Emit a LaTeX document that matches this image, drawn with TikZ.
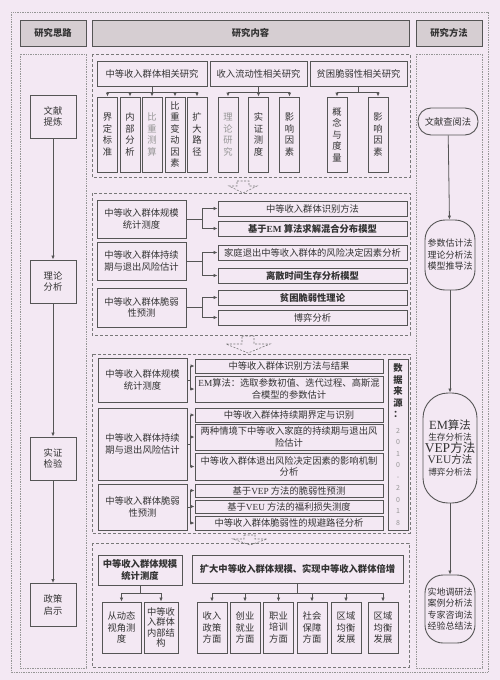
\documentclass[tikz,border=0pt]{standalone}
\usepackage{fontspec}
\newfontfamily\cjk{Noto Sans CJK SC}
\newfontfamily\lat{Liberation Serif}
\definecolor{bgpink}{RGB}{243,232,243}
\definecolor{hdrgray}{RGB}{214,206,210}
\definecolor{linegray}{RGB}{85,85,85}
\definecolor{framegray}{RGB}{120,120,120}
\definecolor{dotgray}{RGB}{150,150,150}
\definecolor{textgray}{RGB}{150,150,150}
\usetikzlibrary{arrows.meta}
\newcommand\srcdigit[1]{{\mdseries\color{textgray}\fontsize{7}{9}\selectfont #1}}

\begin{document}
\begin{tikzpicture}
[
  x=1pt,y=-1pt,
  every node/.style={font=\cjk\fontsize{9.3}{11.5}\selectfont,text=black!80,inner sep=0pt},
  hdr/.style={rectangle,draw=linegray,fill=hdrgray,line width=1pt,minimum height=26pt,font=\cjk\bfseries\fontsize{9.3}{11.5}\selectfont},
  box/.style={rectangle,draw=linegray,fill=bgpink,line width=0.9pt,align=center},
  vbox/.style={box,minimum width=20pt,minimum height=75pt},
  lbox/.style={box,minimum width=89pt},
  rbox/.style={box,minimum width=189pt,minimum height=15pt},
  ebox/.style={box,minimum width=188pt},
  kbox/.style={box,minimum width=30pt,minimum height=51pt},
  stage/.style={box,minimum width=46pt,minimum height=43pt},
  mth/.style={box,rounded corners=#1},
  mth/.default=12pt,
  bold/.style={font=\cjk\bfseries\fontsize{9.3}{11.5}\selectfont},
  frame/.style={draw=framegray,dash pattern=on 3pt off 2pt,line width=0.8pt},
  dotframe/.style={draw=dotgray,densely dotted,line width=0.7pt},
  arr/.style={-{Latex[length=4pt,width=3.5pt]},draw=linegray,line width=0.8pt},
  hollow/.style={draw=framegray,dash pattern=on 2pt off 1.5pt,line width=0.6pt},
]
\fill[bgpink] (0,0) rectangle (500,680);
\useasboundingbox (0,0) rectangle (500,680);

% frames
\draw[dotframe] (11,12) rectangle (488,672);
\draw[dotframe] (20,54) rectangle (86,668);
\draw[dotframe] (416,54) rectangle (482,668);
\draw[frame] (92,54) rectangle (410,177);
\draw[frame] (92,193) rectangle (410,335);
\draw[frame] (92,354) rectangle (410,533);
\draw[frame] (92,543) rectangle (409,667);

% headers
\node[hdr,minimum width=66pt] (h1) at (53,33) {研究思路};
\node[hdr,minimum width=317pt] (h2) at (250.5,33) {研究内容};
\node[hdr,minimum width=66pt] (h3) at (449,33) {研究方法};

% research steps
\node[stage] (s1) at (53,116.5) {文献\\提炼};
\node[stage] (s2) at (53,281.5) {理论\\分析};
\node[stage] (s3) at (53,458.5) {实证\\检验};
\node[stage] (s4) at (53,605) {政策\\启示};
\draw[arr] (s1) -- (s2);
\draw[arr] (s2) -- (s3);
\draw[arr] (s3) -- (s4);

% methods
\node[mth=13pt,minimum width=60pt,minimum height=27pt] (m1) at (448,121.5) {文献查阅法};
\node[mth=20pt,minimum width=50pt,minimum height=70pt,font=\cjk\fontsize{9}{11.5}\selectfont] (m2) at (450,255) {参数估计法\\理论分析法\\模型推导法};
\node[mth=25pt,minimum width=54pt,minimum height=110pt] (m3) at (450,448)
  {{\lat\fontsize{12.5}{12}\selectfont EM}{\fontsize{11.5}{12}\selectfont 算法}\\
   {\fontsize{8.7}{10}\selectfont 生存分析法}\\
   {\lat\fontsize{13.5}{13}\selectfont VEP}{\fontsize{12.5}{13}\selectfont 方法}\\
   {\lat\fontsize{11.5}{12}\selectfont VEU}{\fontsize{10.5}{12}\selectfont 方法}\\
   {\fontsize{8.7}{10}\selectfont 博弈分析法}};
\node[mth=18pt,minimum width=50pt,minimum height=68pt,font=\cjk\fontsize{9}{11.5}\selectfont] (m4) at (450,609) {实地调研法\\案例分析法\\专家咨询法\\经验总结法};
\draw[arr] (m1) -- (m2);
\draw[arr] (m2) -- (m3);
\draw[arr] (m3) -- (m4);

% block 1: literature
\node[box,minimum width=110pt,minimum height=25pt] (a1) at (152,73.5) {中等收入群体相关研究};
\node[box,minimum width=97pt,minimum height=25pt] (a2) at (258.5,73.5) {收入流动性相关研究};
\node[box,minimum width=97pt,minimum height=25pt] (a3) at (358.5,73.5) {贫困脆弱性相关研究};
\node[vbox] (c1) at (107.5,134.5) {界\\定\\标\\准};
\node[vbox] (c2) at (130,134.5) {内\\部\\分\\析};
\node[vbox,text=textgray] (c3) at (152,134.5) {比\\重\\测\\算};
\node[vbox] (c4) at (175,134.5) {比\\重\\变\\动\\因\\素};
\node[vbox] (c5) at (197,134.5) {扩\\大\\路\\径};
\node[vbox,text=textgray] (c6) at (228,134.5) {理\\论\\研\\究};
\node[vbox] (c7) at (258.5,134.5) {实\\证\\测\\度};
\node[vbox] (c8) at (289.5,134.5) {影\\响\\因\\素};
\node[vbox] (c9) at (337,134.5) {概\\念\\与\\度\\量};
\node[vbox] (c10) at (378,134.5) {影\\响\\因\\素};
\foreach \c in {c1,c2,c3,c4,c5}
  \draw[arr] (a1.south) -- ++(0,6) -| (\c.north);
\foreach \c in {c6,c7,c8}
  \draw[arr] (a2.south) -- ++(0,6) -| (\c.north);
\foreach \c in {c9,c10}
  \draw[arr] (a3.south) -- ++(0,6) -| (\c.north);

\draw[hollow] (237,181) -- (249,181) -- (249,186) -- (257,186) -- (243,193) -- (229,186) -- (237,186) -- cycle;

% block 2: theory
\node[lbox,minimum height=38pt] (b1) at (141.5,219) {中等收入群体规模\\统计测度};
\node[lbox,minimum height=38pt] (b2) at (141.5,261) {中等收入群体持续\\期与退出风险估计};
\node[lbox,minimum height=39pt] (b3) at (141.5,307.5) {中等收入群体脆弱\\性预测};
\node[rbox] (r1) at (312.5,208.5) {中等收入群体识别方法};
\node[rbox,bold] (r2) at (312.5,228.5) {基于{\lat EM} 算法求解混合分布模型};
\node[rbox] (r3) at (312.5,252.5) {家庭退出中等收入群体的风险决定因素分析};
\node[rbox,bold] (r4) at (312.5,275.5) {离散时间生存分析模型};
\node[rbox,bold] (r5) at (312.5,297.5) {贫困脆弱性理论};
\node[rbox] (r6) at (312.5,317.5) {博弈分析};
\draw[arr] (b1.east) -- ++(16,0) |- (r1.west);
\draw[arr] (b1.east) -- ++(16,0) |- (r2.west);
\draw[arr] (b2.east) -- ++(16,0) |- (r3.west);
\draw[arr] (b2.east) -- ++(16,0) |- (r4.west);
\draw[arr] (b3.east) -- ++(16,0) |- (r5.west);
\draw[arr] (b3.east) -- ++(16,0) |- (r6.west);

\draw[hollow] (242,336) -- (254,336) -- (254,344) -- (270,344) -- (248,353) -- (226,344) -- (242,344) -- cycle;

% block 3: empirical
\node[lbox,minimum height=44pt] (d1) at (142.5,380) {中等收入群体规模\\统计测度};
\node[lbox,minimum height=72pt] (d2) at (142.5,444) {中等收入群体持续\\期与退出风险估计};
\node[lbox,minimum height=46pt] (d3) at (142.5,507) {中等收入群体脆弱\\性预测};
\node[ebox,minimum height=14pt] (e1) at (289,366) {中等收入群体识别方法与结果};
\node[ebox,minimum height=26pt] (e2) at (289,389) {{\lat EM}算法：选取参数初值、迭代过程、高斯混\\合模型的参数估计};
\node[ebox,minimum height=14pt] (e3) at (289,415) {中等收入群体持续期界定与识别};
\node[ebox,minimum height=26pt] (e4) at (289,437) {两种情境下中等收入家庭的持续期与退出风\\险估计};
\node[ebox,minimum height=27pt] (e5) at (289,466.5) {中等收入群体退出风险决定因素的影响机制\\分析};
\node[ebox,minimum height=13pt] (e6) at (289,490.5) {基于{\lat VEP} 方法的脆弱性预测};
\node[ebox,minimum height=13pt] (e7) at (289,506.5) {基于{\lat VEU} 方法的福利损失测度};
\node[ebox,minimum height=14pt] (e8) at (289,523) {中等收入群体脆弱性的规避路径分析};
\draw[arr] (d1.east) -- ++(3,0) |- (e1.west);
\draw[arr] (d1.east) -- ++(3,0) |- (e2.west);
\draw[arr] (d2.east) -- ++(3,0) |- (e3.west);
\draw[arr] (d2.east) -- ++(3,0) |- (e4.west);
\draw[arr] (d2.east) -- ++(3,0) |- (e5.west);
\draw[arr] (d3.east) -- ++(3,0) |- (e6.west);
\draw[arr] (d3.east) -- ++(3,0) |- (e7.west);
\draw[arr] (d3.east) -- ++(3,0) |- (e8.west);
\node[box,minimum width=20pt,minimum height=171pt,bold] (src) at (398,444.5)
  {数\\据\\来\\源\\：\\[4pt]\srcdigit{2}\\\srcdigit{0}\\\srcdigit{1}\\\srcdigit{0}\\\srcdigit{-}\\\srcdigit{2}\\\srcdigit{0}\\\srcdigit{1}\\\srcdigit{8}};

\draw[hollow] (244,535) -- (255,535) -- (255,539) -- (267,539) -- (250,545) -- (233,539) -- (244,539) -- cycle;

% block 4: policy
\node[box,bold,minimum width=84pt,minimum height=30pt] (f1) at (140,570) {中等收入群体规模\\统计测度};
\node[box,bold,minimum width=211pt,minimum height=28pt] (f2) at (297.5,569) {扩大中等收入群体规模、实现中等收入群体倍增};
\node[box,minimum width=39pt,minimum height=51pt] (g1) at (121.5,627.5) {从动态\\视角测\\度};
\node[box,minimum width=34pt,minimum height=51pt,font=\cjk\fontsize{9.3}{10.5}\selectfont] (g2) at (161,627.5) {中等收\\入群体\\内部结\\构};
\node[kbox] (k1) at (212,627.5) {收入\\政策\\方面};
\node[kbox] (k2) at (245,627.5) {创业\\就业\\方面};
\node[kbox] (k3) at (278.5,627.5) {职业\\培训\\方面};
\node[kbox] (k4) at (312,627.5) {社会\\保障\\方面};
\node[kbox] (k5) at (346,627.5) {区域\\均衡\\发展};
\node[kbox] (k6) at (383,627.5) {区域\\均衡\\发展};
\foreach \g in {g1,g2}
  \draw[arr] (f1.south) -- ++(0,8) -| (\g.north);
\foreach \k in {k1,k2,k3,k4,k5,k6}
  \draw[arr] (f2.south) -- ++(0,10) -| (\k.north);
\end{tikzpicture}
\end{document}
